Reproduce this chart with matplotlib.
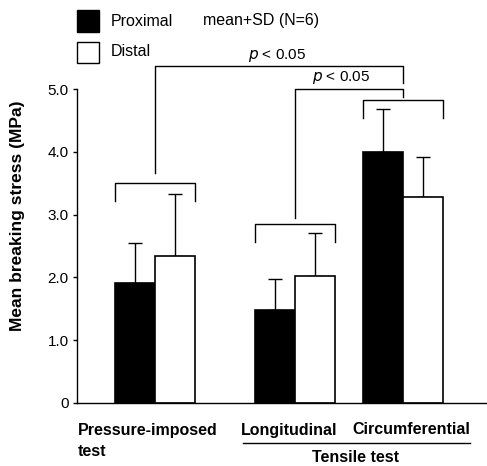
import matplotlib
matplotlib.use("Agg")
import matplotlib.pyplot as plt
from matplotlib.patches import Rectangle

plt.rcParams['font.family'] = ['Liberation Sans', 'DejaVu Sans']

groups = ["Pressure-imposed\ntest", "Longitudinal", "Circumferential"]
proximal = [1.91, 1.48, 4.00]
proximal_sd = [0.63, 0.49, 0.68]
distal = [2.34, 2.02, 3.28]
distal_sd = [0.99, 0.68, 0.64]
yticks = [0, 1.0, 2.0, 3.0, 4.0, 5.0]
yticklabels = ["0", "1.0", "2.0", "3.0", "4.0", "5.0"]

W, H = 487, 466
fig = plt.figure(figsize=(W / 100, H / 100), dpi=100)

def fx(px):
    return px / W

def fy(py):
    return 1 - py / H

ax_l, ax_r, ax_t, ax_b = 77, 487, 89, 403
ax = fig.add_axes([fx(ax_l), fy(ax_b), fx(ax_r - ax_l), (ax_b - ax_t) / H])

# x in units where 1 unit = 41 px
centers = [1.9, 5.32, 7.95]
bw = 0.98
xp = [c - bw / 2 for c in centers]
xd = [c + bw / 2 for c in centers]

err_kw = dict(ecolor='black', elinewidth=1.0, capsize=5, capthick=1.0)
ax.bar(xp, proximal, width=bw, color='black', edgecolor='black', linewidth=1.2, zorder=2)
ax.bar(xd, distal, width=bw, color='white', edgecolor='black', linewidth=1.2, zorder=2)
ax.errorbar(xp, proximal, yerr=[[0] * 3, proximal_sd], fmt='none', zorder=1, **err_kw)
ax.errorbar(xd, distal, yerr=[[0] * 3, distal_sd], fmt='none', zorder=1, **err_kw)

ax.set_xlim(0, (ax_r - ax_l) / 41)
ax.set_ylim(0, 5)
ax.set_yticks(yticks)
ax.set_yticklabels(yticklabels, fontsize=11)
ax.set_xticks([])
ax.spines['top'].set_visible(False)
ax.spines['right'].set_visible(False)
ax.spines['left'].set_linewidth(1.0)
ax.spines['bottom'].set_linewidth(1.0)
ax.tick_params(axis='y', direction='out', length=3, width=1.0, pad=3)

fig.text(fx(18), fy(216), "Mean breaking stress (MPa)", fontsize=12.5, fontweight='bold',
         rotation=90, ha='center', va='center')

lk = dict(color='black', lw=1.0, clip_on=False)
# group brackets
def bracket(i, ytop, ydrop):
    x0 = xp[i] - bw / 2
    x1 = xd[i] + bw / 2
    ax.plot([x0, x0, x1, x1], [ydrop, ytop, ytop, ydrop], **lk)

bracket(0, 3.51, 3.21)
bracket(1, 2.85, 2.56)
bracket(2, 4.82, 4.54)

# significance lines
ax.plot([centers[0], centers[0], centers[2], centers[2]], [3.66, 5.36, 5.36, 5.10], **lk)
ax.plot([centers[1], centers[1], centers[2], centers[2]], [2.95, 5.0, 5.0, 4.88], **lk)
ax.text(4.87, 5.40, r"$p$ < 0.05", fontsize=11, ha='center', va='bottom')
ax.text(6.45, 5.04, r"$p$ < 0.05", fontsize=11, ha='center', va='bottom')

# category labels
bk = dict(fontsize=11.5, fontweight='bold', va='center')
fig.text(fx(78), fy(430), "Pressure-imposed", ha='left', **bk)
fig.text(fx(78), fy(452), "test", ha='left', **bk)
fig.text(fx(289), fy(430), groups[1], ha='center', **bk)
fig.text(fx(411), fy(430), groups[2], ha='center', **bk)
fig.add_artist(plt.Line2D([fx(243), fx(470)], [fy(443), fy(443)], color='black', lw=1.0))
fig.text(fx(355), fy(458), "Tensile test", ha='center', **bk)

# legend
fig.add_artist(Rectangle((fx(77), fy(32)), fx(22), 22 / H, facecolor='black', edgecolor='black', lw=1.0))
fig.add_artist(Rectangle((fx(77), fy(63)), fx(22), 21 / H, facecolor='white', edgecolor='black', lw=1.0))
fig.text(fx(111), fy(21), "Proximal", fontsize=11.5, ha='left', va='center')
fig.text(fx(111), fy(52), "Distal", fontsize=11.5, ha='left', va='center')
fig.text(fx(203), fy(21), "mean+SD (N=6)", fontsize=11.5, ha='left', va='center')

fig.savefig("out.png", dpi=100)
